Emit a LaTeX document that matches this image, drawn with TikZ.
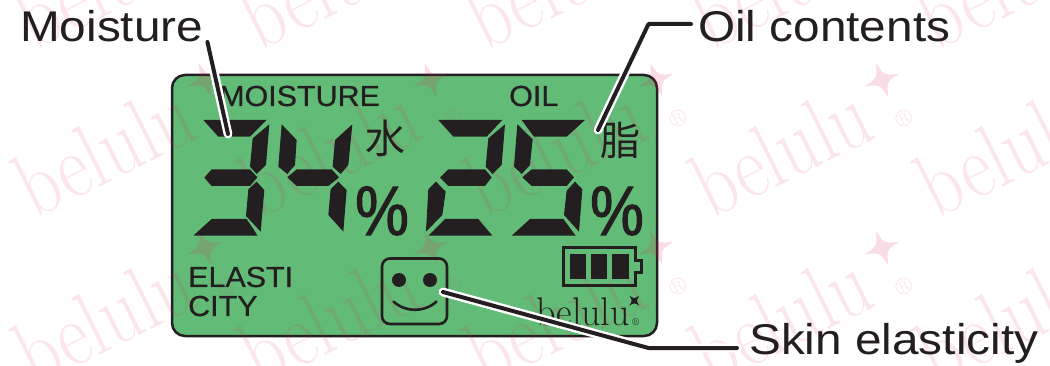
\documentclass[tikz,border=0pt]{standalone}
\usepackage{fontspec}
\newfontfamily\labelfont[FakeStretch=1.11]{Liberation Sans}
\newfontfamily\lcdfont[FakeStretch=1.05,FakeBold=.6]{Liberation Sans}
\newfontfamily\pctfont[FakeStretch=.86,FakeBold=1.6]{Liberation Sans}
\newfontfamily\jpfont{Noto Sans CJK JP}
\definecolor{ink}{HTML}{231F20}
\definecolor{lcd}{HTML}{62BC78}
\definecolor{wm}{HTML}{E21C4C}
\tikzset{
  callout/.style = {anchor=base west, inner sep=0, text=ink,
    font=\labelfont\fontsize{43}{50}\selectfont},
  lcdtext/.style = {anchor=base west, inner sep=0, text=ink,
    font=\lcdfont\fontsize{29}{30}\selectfont},
  pct/.style = {anchor=base, inner sep=0, text=ink,
    font=\pctfont\fontsize{70}{70}\selectfont},
  kanji/.style = {inner sep=0, text=ink,
    font=\jpfont\fontsize{40}{40}\selectfont},
  leader/.style = {draw=white, line width=2.4, double=ink, double distance=4,
    line cap=round, line join=round},
  sparkle/.pic = {
    \fill (0,-1) .. controls (.2,-.2) .. (1,0)
      .. controls (.2,.2) .. (0,1)
      .. controls (-.2,.2) .. (-1,0)
      .. controls (-.2,-.2) .. cycle;
  }
}
\begin{document}
\begin{tikzpicture}[x=1pt, y=-1pt]
  \clip (0,0) rectangle (1050,366);
  \fill[white] (0,0) rectangle (1050,366);

  % panel
  \draw[fill=lcd, draw=ink, line width=2.5, rounded corners=13]
    (172,75) rectangle (657,336);

  % repeated logo behind everything
  \foreach \wx in {38,263.7,489.3,715,940.7}
    \foreach \wy in {50,218,386}
    {
      \begin{scope}[shift={(\wx,\wy)}]
        \node[anchor=base west, rotate=26.5, inner sep=0, text=wm, text opacity=.11,
          font=\fontsize{92}{92}\selectfont] at (-4,2) {\scalebox{.82}[1]{belulu}};
        \node[rotate=26.5, inner sep=0, text=wm, text opacity=.13,
          font=\fontsize{24}{24}\selectfont] at (189,-99) {®};
        \path[fill=wm, fill opacity=.15] (167,-138) pic[scale=18, rotate=20] {sparkle};
      \end{scope}
    }

  % lcd captions
  \node[lcdtext] (MoistureCap) at (219,106) {MOISTURE};
  \node[lcdtext] (OilCap) at (509,106) {OIL};
  \node[lcdtext] (ElastiCap) at (188,287) {ELASTI};
  \node[lcdtext] (CityCap) at (188,316) {CITY};
  \node[kanji] (Water) at (385,138) {水};
  \node[kanji] (Fat) at (620,140) {脂};
  \node[pct] (PctA) at (382,235) {\%};
  \node[pct] (PctB) at (617,235) {\%};

  % digits 3 and 4
  \begin{scope}[shift={(160,70)}, scale=1/3]
    \fill[ink] (130,150) -- (320,150) -- (270,200) -- (175,200) -- cycle;
    \fill[ink] (328,163) -- (318,285) -- (290,312) -- (270,290) -- (278,205) -- cycle;
    \fill[ink] (133,323) -- (155,298) -- (270,298) -- (292,322) -- (270,348) -- (155,348) -- cycle;
    \fill[ink] (290,335) -- (313,360) -- (302,485) -- (258,438) -- (265,358) -- cycle;
    \fill[ink] (100,497) -- (155,447) -- (260,447) -- (293,497) -- cycle;

    \fill[ink] (365,163) -- (410,210) -- (405,285) -- (382,312) -- (355,290) -- cycle;
    \fill[ink] (382,322) -- (410,298) -- (515,298) -- (537,322) -- (505,348) -- (410,348) -- cycle;
    \fill[ink] (577,163) -- (565,285) -- (542,312) -- (518,290) -- (525,210) -- cycle;
    \fill[ink] (535,335) -- (560,360) -- (550,485) -- (505,435) -- (512,358) -- cycle;
  \end{scope}

  % digits 2 and 5
  \begin{scope}[shift={(410,70)}, scale=1/3]
    \fill[ink] (85,150) -- (277,150) -- (230,200) -- (130,200) -- cycle;
    \fill[ink] (285,163) -- (275,285) -- (248,312) -- (227,290) -- (235,205) -- cycle;
    \fill[ink] (90,323) -- (115,298) -- (225,298) -- (245,322) -- (225,348) -- (115,348) -- cycle;
    \fill[ink] (78,335) -- (107,365) -- (97,435) -- (48,485) -- (55,358) -- cycle;
    \fill[ink] (55,497) -- (105,447) -- (205,447) -- (247,497) -- cycle;

    \fill[ink] (335,150) -- (525,150) -- (470,200) -- (372,200) -- cycle;
    \fill[ink] (322,163) -- (368,208) -- (360,285) -- (335,312) -- (312,290) -- cycle;
    \fill[ink] (337,322) -- (365,298) -- (470,298) -- (492,322) -- (470,348) -- (365,348) -- cycle;
    \fill[ink] (495,335) -- (517,358) -- (507,485) -- (462,435) -- (470,362) -- cycle;
    \fill[ink] (305,497) -- (360,447) -- (460,447) -- (497,497) -- cycle;
  \end{scope}

  % battery
  \draw[ink, line width=3]
    (563,248) -- (635,248) -- (635,261) -- (641,261) -- (641,273) -- (635,273)
    -- (635,285.5) -- (563,285.5) -- cycle;
  \fill[ink] (570,254) rectangle (585.7,279.3);
  \fill[ink] (590.7,254) rectangle (607.3,279.3);
  \fill[ink] (611.7,254) rectangle (629,279.3);

  % face
  \draw[ink, line width=2.6, rounded corners=8] (382,258.5) rectangle (447,324);
  \fill[ink] (399,280) circle (7);
  \fill[ink] (430,280) circle (7);
  \draw[ink, line width=2.6, line cap=round]
    (393.5,301.5) .. controls (405,312.5) and (425,312.5) .. (436.5,301.5);

  % small logo
  \node[anchor=base west, inner sep=0, text=ink, font=\fontsize{40}{40}\selectfont]
    (Logo) at (536,325) {\scalebox{.95}[1]{belulu}};
  \path[fill=ink] (634.3,300.7) pic[scale=7, rotate=45] {sparkle};
  \node[inner sep=0, text=ink, font=\fontsize{10}{10}\selectfont] (LogoReg) at (635.7,322.3) {®};

  % callouts
  \node[callout] (Moisture) at (20,42) {Moisture};
  \node[callout] (Oil) at (698,42) {Oil contents};
  \node[callout] (Skin) at (749,354) {Skin elasticity};

  \coordinate (MoistureEnd) at (228,134);
  \coordinate (OilBend) at (648.5,24);
  \coordinate (OilEnd) at (598,130);
  \coordinate (SkinBend) at (648.5,348);
  \coordinate (SkinEnd) at (443,292);

  \draw[leader] ([xshift=4pt]Moisture.base east) -- (MoistureEnd);
  \draw[leader] ([xshift=-7pt, yshift=18pt]Oil.base west) -- (OilBend) -- (OilEnd);
  \draw[leader] ([xshift=-12pt, yshift=6pt]Skin.base west) -- (SkinBend) -- (SkinEnd);
\end{tikzpicture}
\end{document}
